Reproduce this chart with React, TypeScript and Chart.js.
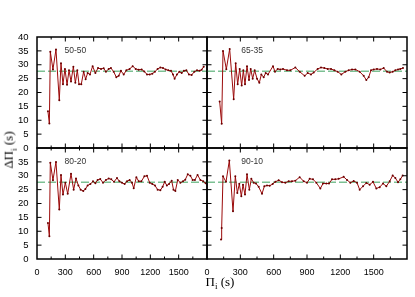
import React, { useEffect, useRef } from "react";
import { Chart, registerables } from "chart.js";

Chart.register(...registerables);

// ---- data ----
const xTickValues = [0, 300, 600, 900, 1200, 1500];
const yTickValuesTop = [0, 5, 10, 15, 20, 25, 30, 35, 40];
const yTickValuesBottom = [0, 5, 10, 15, 20, 25, 30, 35];
const asymptoticSpacing = 27.7;
const panelNames = ["50-50", "65-35", "80-20", "90-10"];

const period5050 = [116, 131, 141, 169, 201, 236, 254, 275, 296, 318, 339, 360, 385, 406, 427, 445, 469, 494, 515, 536, 561, 589, 618, 646, 678, 706, 730, 759, 783, 812, 840, 865, 889, 918, 946, 981, 1013, 1045, 1076, 1108, 1136, 1165, 1193, 1221, 1249, 1277, 1306, 1334, 1362, 1390, 1419, 1440, 1457, 1482, 1507, 1532, 1556, 1581, 1609, 1637, 1666, 1694, 1722, 1743, 1765];
const spacing5050 = [13.2, 8.8, 34.7, 28.3, 35.5, 17.2, 30.5, 23.0, 28.5, 22.8, 28.0, 24.0, 29.3, 23.5, 28.0, 23.0, 23.0, 27.5, 24.8, 27.0, 26.5, 29.5, 27.0, 28.8, 28.5, 28.7, 27.5, 28.5, 28.8, 27.5, 25.5, 26.0, 27.8, 26.5, 28.0, 28.5, 29.5, 28.5, 28.2, 28.3, 27.6, 26.5, 26.5, 26.8, 27.5, 28.5, 29.0, 28.8, 28.3, 28.0, 27.8, 26.5, 25.0, 26.5, 27.5, 27.0, 27.8, 28.0, 26.5, 26.3, 27.5, 28.0, 27.8, 28.2, 29.3];

const period6535 = [114, 132, 144, 174, 204, 240, 258, 276, 294, 312, 327, 342, 360, 378, 393, 411, 429, 450, 471, 489, 510, 528, 549, 594, 612, 636, 660, 684, 720, 750, 795, 834, 879, 906, 936, 960, 996, 1026, 1056, 1086, 1116, 1146, 1176, 1209, 1245, 1275, 1305, 1335, 1374, 1410, 1434, 1455, 1476, 1500, 1530, 1560, 1590, 1620, 1644, 1671, 1695, 1719, 1740, 1764];
const spacing6535 = [16.8, 8.7, 35.0, 28.4, 35.7, 17.6, 30.5, 23.0, 28.5, 22.5, 28.0, 23.0, 29.5, 24.5, 28.5, 25.0, 28.0, 25.0, 23.5, 26.5, 25.5, 27.0, 26.5, 29.5, 27.5, 28.5, 28.3, 28.5, 28.0, 28.0, 29.0, 27.5, 26.0, 27.0, 26.5, 27.2, 28.5, 29.0, 28.8, 28.5, 28.5, 28.0, 27.5, 26.5, 27.5, 28.0, 28.3, 28.3, 27.5, 26.0, 24.5, 25.5, 28.0, 28.3, 28.5, 28.3, 28.8, 27.5, 27.2, 27.5, 28.0, 28.3, 28.5, 28.8];

const period8020 = [116, 131, 141, 169, 201, 236, 254, 275, 300, 325, 360, 388, 413, 438, 462, 490, 512, 536, 565, 593, 618, 642, 670, 699, 730, 759, 787, 815, 847, 872, 900, 928, 953, 981, 1006, 1024, 1052, 1077, 1105, 1137, 1165, 1193, 1221, 1249, 1277, 1306, 1330, 1352, 1375, 1398, 1426, 1445, 1465, 1490, 1518, 1546, 1570, 1596, 1624, 1648, 1672, 1700, 1730, 1760, 1785];
const spacing8020 = [13.0, 8.2, 34.7, 28.4, 35.0, 17.8, 30.3, 23.2, 27.5, 23.5, 30.7, 25.0, 29.0, 26.5, 25.0, 24.5, 25.2, 26.5, 27.0, 28.0, 27.3, 28.5, 28.8, 27.5, 28.5, 29.0, 28.7, 27.8, 29.2, 28.0, 27.5, 27.0, 28.0, 28.5, 27.5, 25.5, 29.5, 28.0, 28.0, 29.8, 30.0, 27.5, 27.0, 26.5, 25.0, 24.8, 26.0, 27.8, 26.5, 27.0, 28.2, 25.0, 24.5, 28.5, 27.5, 28.0, 28.6, 30.5, 30.0, 28.5, 28.5, 30.3, 28.5, 28.0, 27.3];

const period9010 = [126, 132, 144, 171, 201, 234, 255, 273, 291, 309, 324, 342, 360, 381, 399, 420, 441, 465, 495, 516, 540, 564, 591, 615, 645, 675, 705, 735, 765, 795, 834, 870, 900, 924, 954, 984, 1020, 1044, 1074, 1098, 1125, 1155, 1185, 1230, 1260, 1290, 1320, 1350, 1374, 1404, 1434, 1464, 1494, 1524, 1554, 1584, 1614, 1644, 1671, 1695, 1719, 1740, 1761];
const spacing9010 = [7.0, 11.2, 29.8, 27.8, 35.5, 17.2, 29.8, 23.8, 27.1, 22.6, 26.8, 23.2, 30.5, 25.0, 28.9, 27.5, 27.2, 26.0, 23.5, 26.2, 26.5, 26.4, 27.0, 27.8, 28.4, 27.7, 27.5, 28.0, 28.0, 28.2, 29.5, 28.0, 27.5, 28.9, 28.7, 27.5, 25.4, 27.2, 27.2, 27.2, 28.7, 28.7, 28.9, 29.6, 28.5, 27.5, 28.1, 27.5, 25.0, 26.2, 27.4, 26.8, 27.8, 25.4, 25.9, 27.2, 26.2, 28.0, 30.1, 29.2, 27.7, 28.7, 30.1];

// ---- layout ----
const W = 415;
const H = 297;
const COL_X = [37, 207, 407];
const ROW_Y = [37, 148, 259];
const X_MIN = 0;
const X_MAX = 1800;
const Y_MIN = 0;
const Y_MAX = 40;

const panels = [
  { name: panelNames[0], row: 0, col: 0, xs: period5050, ys: spacing5050 },
  { name: panelNames[1], row: 0, col: 1, xs: period6535, ys: spacing6535 },
  { name: panelNames[2], row: 1, col: 0, xs: period8020, ys: spacing8020 },
  { name: panelNames[3], row: 1, col: 1, xs: period9010, ys: spacing9010 },
];

function framePlugin(name: string) {
  return {
    id: "frame-" + name,
    afterDatasetsDraw(chart: any) {
      const { ctx, chartArea: a, scales } = chart;
      const xs = scales.x;
      const ys = scales.y;
      ctx.save();
      ctx.strokeStyle = "#000";
      ctx.lineWidth = 1;
      const line = (x1: number, y1: number, x2: number, y2: number) => {
        ctx.beginPath();
        ctx.moveTo(x1, y1);
        ctx.lineTo(x2, y2);
        ctx.stroke();
      };
      for (let v = 150; v < X_MAX; v += 150) {
        const px = xs.getPixelForValue(v);
        const len = v % 300 === 0 ? 4.5 : 2.5;
        line(px, a.bottom, px, a.bottom - len);
        line(px, a.top, px, a.top + len);
      }
      for (let v = 5; v < Y_MAX; v += 5) {
        const py = ys.getPixelForValue(v);
        line(a.left, py, a.left + 4.5, py);
        line(a.right, py, a.right - 4.5, py);
      }
      ctx.lineWidth = 1.5;
      ctx.strokeRect(a.left, a.top, a.right - a.left, a.bottom - a.top);
      ctx.font = '8.5px "Liberation Sans", Arial, sans-serif';
      ctx.fillStyle = "#333";
      ctx.textAlign = "center";
      ctx.textBaseline = "middle";
      ctx.fillText(name, a.left + 0.226 * (a.right - a.left), a.top + 14);
      ctx.restore();
    },
  };
}

function makeChart(canvas: HTMLCanvasElement, p: any) {
  const area = {
    left: COL_X[p.col],
    right: COL_X[p.col + 1],
    top: ROW_Y[p.row],
    bottom: ROW_Y[p.row + 1],
  };
  const showY = p.col === 0;
  const showX = p.row === 1;
  const yTicks = p.row === 0 ? yTickValuesTop : yTickValuesBottom;
  return new Chart(canvas, {
    type: "line",
    data: {
      datasets: [
        {
          data: p.xs.map((x: number, i: number) => ({ x, y: p.ys[i] })),
          borderColor: "#9b0a0a",
          borderWidth: 1,
          pointRadius: 1,
          pointBackgroundColor: "#6a0000",
          pointBorderWidth: 0,
          tension: 0,
          order: 0,
        },
        {
          data: [
            { x: X_MIN, y: asymptoticSpacing },
            { x: X_MAX, y: asymptoticSpacing },
          ],
          borderColor: "rgba(110,185,135,0.9)",
          borderWidth: 1.5,
          borderDash: [8, 3],
          pointRadius: 0,
          order: 1,
        },
      ],
    },
    options: {
      responsive: false,
      animation: false,
      devicePixelRatio: 1,
      layout: {
        padding: {
          left: showY ? 0 : area.left,
          right: W - area.right,
          top: area.top,
          bottom: showX ? 0 : H - area.bottom,
        },
      },
      plugins: { legend: { display: false }, tooltip: { enabled: false } },
      scales: {
        x: {
          type: "linear",
          min: X_MIN,
          max: X_MAX,
          grid: { display: false, drawTicks: false },
          border: { display: false },
          ticks: {
            display: showX,
            color: "#000",
            padding: 8,
            maxRotation: 0,
            autoSkip: false,
            callback: (v: any) => String(v),
            font: { family: '"Liberation Sans", Arial, sans-serif', size: 9 },
          },
          afterBuildTicks: (s: any) => {
            s.ticks = xTickValues.map((v) => ({ value: v }));
          },
          afterFit: (s: any) => {
            s.height = showX ? H - area.bottom : 0;
          },
        },
        y: {
          type: "linear",
          min: Y_MIN,
          max: Y_MAX,
          grid: { display: false, drawTicks: false },
          border: { display: false },
          ticks: {
            display: showY,
            color: "#000",
            padding: 8.5,
            autoSkip: false,
            callback: (v: any) => String(v),
            font: { family: '"Liberation Sans", Arial, sans-serif', size: 9.5 },
          },
          afterBuildTicks: (s: any) => {
            s.ticks = yTicks.map((v) => ({ value: v }));
          },
          afterFit: (s: any) => {
            s.width = showY ? area.left : 0;
          },
        },
      },
    },
    plugins: [framePlugin(p.name)],
  } as any);
}

export default function App() {
  const refs = [
    useRef<HTMLCanvasElement>(null),
    useRef<HTMLCanvasElement>(null),
    useRef<HTMLCanvasElement>(null),
    useRef<HTMLCanvasElement>(null),
  ];
  useEffect(() => {
    const charts = panels.map((p, i) => makeChart(refs[i].current as HTMLCanvasElement, p));
    return () => charts.forEach((c) => c.destroy());
  }, []);

  return (
    <div
      style={{
        position: "absolute",
        left: 0,
        top: 0,
        width: W,
        height: H,
        background: "#fff",
        overflow: "hidden",
      }}
    >
      {panels.map((p, i) => (
        <canvas
          key={p.name}
          ref={refs[i]}
          width={W}
          height={H}
          style={{ position: "absolute", left: 0, top: 0, width: W, height: H }}
        />
      ))}
      <div
        style={{
          position: "absolute",
          left: 10,
          top: 150,
          transform: "translate(-50%, -50%) rotate(-90deg)",
          whiteSpace: "nowrap",
          fontFamily: '"Liberation Serif", "Times New Roman", serif',
          fontSize: 13,
          lineHeight: 1,
          color: "#000",
        }}
      >
        ΔΠ<sub style={{ fontSize: 9 }}>i</sub> (s)
      </div>
      <div
        style={{
          position: "absolute",
          left: 220,
          top: 283,
          transform: "translate(-50%, -50%)",
          whiteSpace: "nowrap",
          fontFamily: '"Liberation Serif", "Times New Roman", serif',
          fontSize: 13,
          lineHeight: 1,
          color: "#000",
        }}
      >
        Π<sub style={{ fontSize: 9 }}>i</sub> (s)
      </div>
    </div>
  );
}
